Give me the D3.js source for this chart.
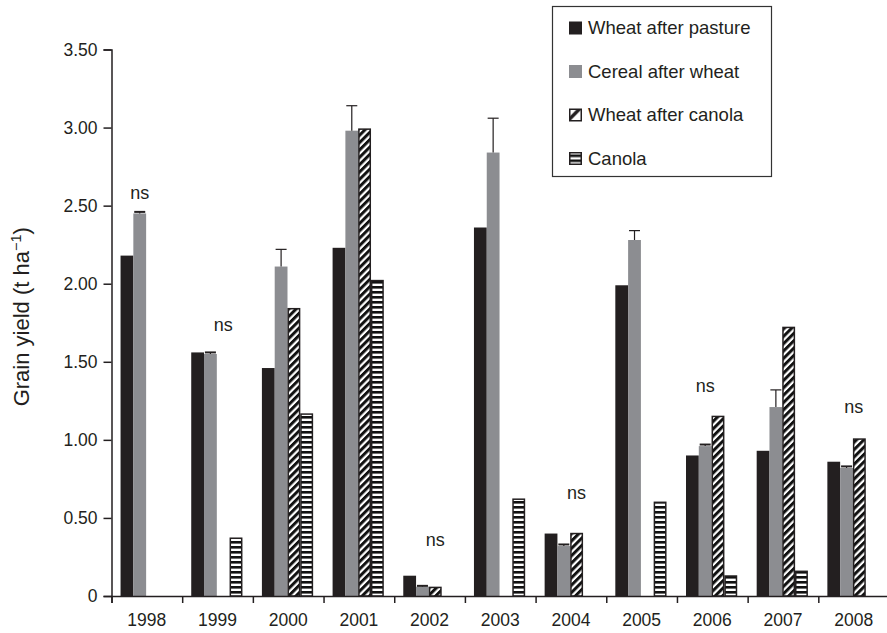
<!DOCTYPE html>
<html>
<head>
<meta charset="utf-8">
<script src="https://cdn.jsdelivr.net/npm/d3@7"></script>
<style>
  html, body { margin: 0; padding: 0; background: #fff; }
  svg { display: block; font-family: "Liberation Sans", Arial, Helvetica, sans-serif; }
</style>
</head>
<body>
<svg id="chart" width="887" height="633"></svg>
<script>
// Grain yield by year and rotation phase
const years = ["1998", "1999", "2000", "2001", "2002", "2003", "2004", "2005", "2006", "2007", "2008"];
const seriesNames = ["Wheat after pasture", "Cereal after wheat", "Wheat after canola", "Canola"];

const wheatAfterPasture = [2.18, 1.56, 1.46, 2.23, 0.13, 2.36, 0.40, 1.99, 0.90, 0.93, 0.86];
const cerealAfterWheat  = [2.45, 1.55, 2.11, 2.98, 0.06, 2.84, 0.32, 2.28, 0.96, 1.21, 0.82];
const cerealError       = [0.01, 0.01, 0.11, 0.16, 0.005, 0.22, 0.01, 0.06, 0.01, 0.11, 0.01];
const wheatAfterCanola  = [null, null, 1.84, 2.99, 0.055, null, 0.40, null, 1.15, 1.72, 1.005];
const canola            = [null, 0.37, 1.165, 2.02, null, 0.62, null, 0.60, 0.128, 0.158, null];

// "ns" (not significant) annotations: year, height in t/ha, series column it sits over
const nsYears   = ["1998", "1999", "2002", "2004", "2006", "2008"];
const nsHeights = [2.58, 1.74, 0.36, 0.66, 1.35, 1.21];
const nsAnchor  = ["Cereal after wheat", "Wheat after canola", "Wheat after canola", "Wheat after canola", "Cereal after wheat", null];

const yTicks = [0, 0.5, 1, 1.5, 2, 2.5, 3, 3.5];

const seriesValues = [wheatAfterPasture, cerealAfterWheat, wheatAfterCanola, canola];
const fills = ["#231f20", "#8c8d91", "url(#hatch)", "url(#hstripes)"];
const outlined = [false, false, true, true];

const ink = "#231f20";
const svg = d3.select("#chart");

// Patterns: diagonal hatching and horizontal stripes
const defs = svg.append("defs");
const hatch = defs.append("pattern")
  .attr("id", "hatch").attr("patternUnits", "userSpaceOnUse")
  .attr("width", 5.2).attr("height", 5.2)
  .attr("patternTransform", "rotate(45)");
hatch.append("rect").attr("width", 5.2).attr("height", 5.2).attr("fill", "#fff");
hatch.append("rect").attr("width", 3).attr("height", 5.2).attr("fill", "#111");

const hs = defs.append("pattern")
  .attr("id", "hstripes").attr("patternUnits", "userSpaceOnUse")
  .attr("width", 10).attr("height", 5);
hs.append("rect").attr("width", 10).attr("height", 5).attr("fill", "#fff");
hs.append("rect").attr("y", 1).attr("width", 10).attr("height", 2.6).attr("fill", "#111");

// Legend swatch for the hatched series: one bold diagonal
const hatchKey = defs.append("pattern")
  .attr("id", "hatchKey").attr("patternUnits", "objectBoundingBox")
  .attr("patternContentUnits", "objectBoundingBox")
  .attr("width", 1).attr("height", 1);
hatchKey.append("rect").attr("width", 1).attr("height", 1).attr("fill", "#fff");
hatchKey.append("path").attr("d", "M0,1 L0,0.62 L0.62,0 L1,0 L1,0.05 L0.05,1 Z").attr("fill", ink);

// Scales
const plotLeft = 111.5, plotRight = 889, plotTop = 49.5, plotBottom = 596;
const xYear = d3.scaleBand().domain(years).range([plotLeft, plotRight]).padding(0);
const xEdge = d3.scaleLinear().domain([0, years.length]).range([plotLeft, plotRight]);
const xSeries = d3.scaleBand().domain(seriesNames)
  .range([xYear.bandwidth() * 0.128, xYear.bandwidth() * 0.852]).padding(0);
const y = d3.scaleLinear().domain([0, 3.5]).range([plotBottom, plotTop]);

// Bars
const bars = [];
seriesNames.forEach((s, si) => {
  years.forEach((yr, i) => {
    const v = seriesValues[si][i];
    if (v != null) bars.push({ year: yr, series: s, si, value: v });
  });
});

svg.append("g").selectAll("rect")
  .data(bars)
  .join("rect")
  .attr("x", d => xYear(d.year) + xSeries(d.series) + (outlined[d.si] ? 0.7 : 0))
  .attr("y", d => y(d.value))
  .attr("width", d => xSeries.bandwidth() - (outlined[d.si] ? 1.4 : 0))
  .attr("height", d => y(0) - y(d.value))
  .attr("fill", d => fills[d.si])
  .attr("stroke", d => outlined[d.si] ? ink : "none")
  .attr("stroke-width", 1.5);

// Error bars on cereal after wheat
const eb = svg.append("g").attr("stroke", ink).attr("stroke-width", 1.2).attr("fill", "none");
years.forEach((yr, i) => {
  const cx = xYear(yr) + xSeries("Cereal after wheat") + xSeries.bandwidth() / 2;
  const top = y(cerealAfterWheat[i] + cerealError[i]);
  eb.append("line").attr("x1", cx).attr("x2", cx)
    .attr("y1", y(cerealAfterWheat[i])).attr("y2", top);
  eb.append("line").attr("x1", cx - 5.5).attr("x2", cx + 5.5)
    .attr("y1", top).attr("y2", top)
    .attr("stroke-width", cerealError[i] < 0.03 ? 2 : 1.2);
});

// Y axis
const yAxis = d3.axisLeft(y).tickValues(yTicks)
  .tickFormat(d => d === 0 ? "0" : d3.format(".2f")(d))
  .tickSize(8).tickPadding(6);
const gy = svg.append("g").attr("transform", `translate(${plotLeft},0)`).call(yAxis);
gy.select(".domain").attr("stroke", ink).attr("stroke-width", 1.5);
gy.selectAll(".tick line").attr("stroke", ink).attr("stroke-width", 1.5);
gy.selectAll(".tick text").attr("fill", ink).style("font-size", "17.5px");

// X axis: tick marks at year boundaries, labels centred on each year
const xTickAxis = d3.axisBottom(xEdge).tickValues(d3.range(years.length + 1))
  .tickFormat("").tickSize(7);
const gx = svg.append("g").attr("transform", `translate(0,${plotBottom})`).call(xTickAxis);
gx.select(".domain").attr("stroke", ink).attr("stroke-width", 1.5);
gx.selectAll(".tick line").attr("stroke", ink).attr("stroke-width", 1.5);

const xLabelAxis = d3.axisBottom(xYear).tickSize(0).tickPadding(18);
const gxl = svg.append("g").attr("transform", `translate(0,${plotBottom})`).call(xLabelAxis);
gxl.select(".domain").remove();
gxl.selectAll(".tick text").attr("fill", ink).style("font-size", "17.5px");

// Y axis title
svg.append("text")
  .attr("transform", `translate(29,${(plotTop + plotBottom) / 2 - 6}) rotate(-90)`)
  .attr("text-anchor", "middle")
  .attr("fill", ink)
  .style("font-size", "22px")
  .call(t => {
    t.append("tspan").text("Grain yield (t ha");
    t.append("tspan").attr("dy", -8).style("font-size", "14.5px").text("\u22121");
    t.append("tspan").attr("dy", 8).text(")");
  });

// ns labels
svg.append("g").selectAll("text")
  .data(nsYears.map((yr, i) => ({ year: yr, h: nsHeights[i], anchor: nsAnchor[i] })))
  .join("text")
  .attr("x", d => d.anchor
    ? xYear(d.year) + xSeries(d.anchor) + xSeries.bandwidth() / 2
    : xYear(d.year) + xYear.bandwidth() / 2)
  .attr("y", d => y(d.h))
  .attr("dy", "0.35em")
  .attr("text-anchor", "middle")
  .attr("fill", ink)
  .style("font-size", "18px")
  .text("ns");

// Legend
const keyFills = ["#231f20", "#8c8d91", "url(#hatchKey)", "url(#hstripes)"];
const legend = svg.append("g");
legend.append("rect")
  .attr("x", 552.5).attr("y", 6.5).attr("width", 219).attr("height", 170)
  .attr("fill", "#fff").attr("stroke", "#333").attr("stroke-width", 1.2);
const rows = legend.selectAll("g.row")
  .data(seriesNames)
  .join("g")
  .attr("class", "row")
  .attr("transform", (d, i) => `translate(569,${28 + i * 43.5})`);
rows.append("rect")
  .attr("x", (d, i) => outlined[i] ? 0.75 : 0)
  .attr("y", (d, i) => -6.5 + (outlined[i] ? 0.75 : 0))
  .attr("width", (d, i) => outlined[i] ? 11.5 : 13)
  .attr("height", (d, i) => outlined[i] ? 11.5 : 13)
  .attr("fill", (d, i) => keyFills[i])
  .attr("stroke", (d, i) => outlined[i] ? ink : "none")
  .attr("stroke-width", 1.5);
rows.append("text")
  .attr("x", 19).attr("y", 0).attr("dy", "0.35em")
  .attr("fill", ink)
  .style("font-size", "18.5px")
  .text(d => d);
</script>
</body>
</html>
